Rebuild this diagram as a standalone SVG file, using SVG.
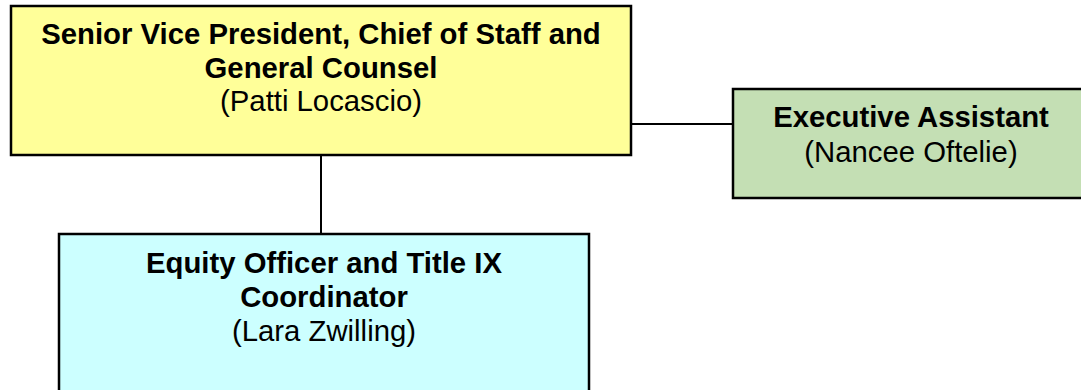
<svg xmlns="http://www.w3.org/2000/svg" width="1081" height="390" viewBox="0 0 1081 390">
<style>
.box{stroke:#000;stroke-width:2.5}
.t{font-family:"Liberation Sans",Arial,sans-serif;font-size:29.3px;fill:#000;text-anchor:middle}
.b{font-weight:bold}
.conn{stroke:#000;stroke-width:2;fill:none}
</style>
<rect width="1081" height="390" fill="#fff"/>
<g id="connectors">
<line class="conn" x1="321" y1="155" x2="321" y2="234"/>
<line class="conn" x1="631" y1="124" x2="733" y2="124"/>
</g>
<g id="node-svp">
<rect class="box" x="11" y="6" width="620" height="149" fill="#FFFF99"/>
<text class="t b" x="321" y="44">Senior Vice President, Chief of Staff and</text>
<text class="t b" x="321" y="78">General Counsel</text>
<text class="t" x="321" y="111">(Patti Locascio)</text>
</g>
<g id="node-ea">
<rect class="box" x="733" y="89" width="360" height="109" fill="#C4DFB4"/>
<text class="t b" x="911" y="127">Executive Assistant</text>
<text class="t" x="911" y="162">(Nancee Oftelie)</text>
</g>
<g id="node-equity">
<rect class="box" x="59" y="234" width="530" height="170" fill="#CCFFFF"/>
<text class="t b" x="324" y="273">Equity Officer and Title IX</text>
<text class="t b" x="324" y="307">Coordinator</text>
<text class="t" x="324" y="341">(Lara Zwilling)</text>
</g>
</svg>
